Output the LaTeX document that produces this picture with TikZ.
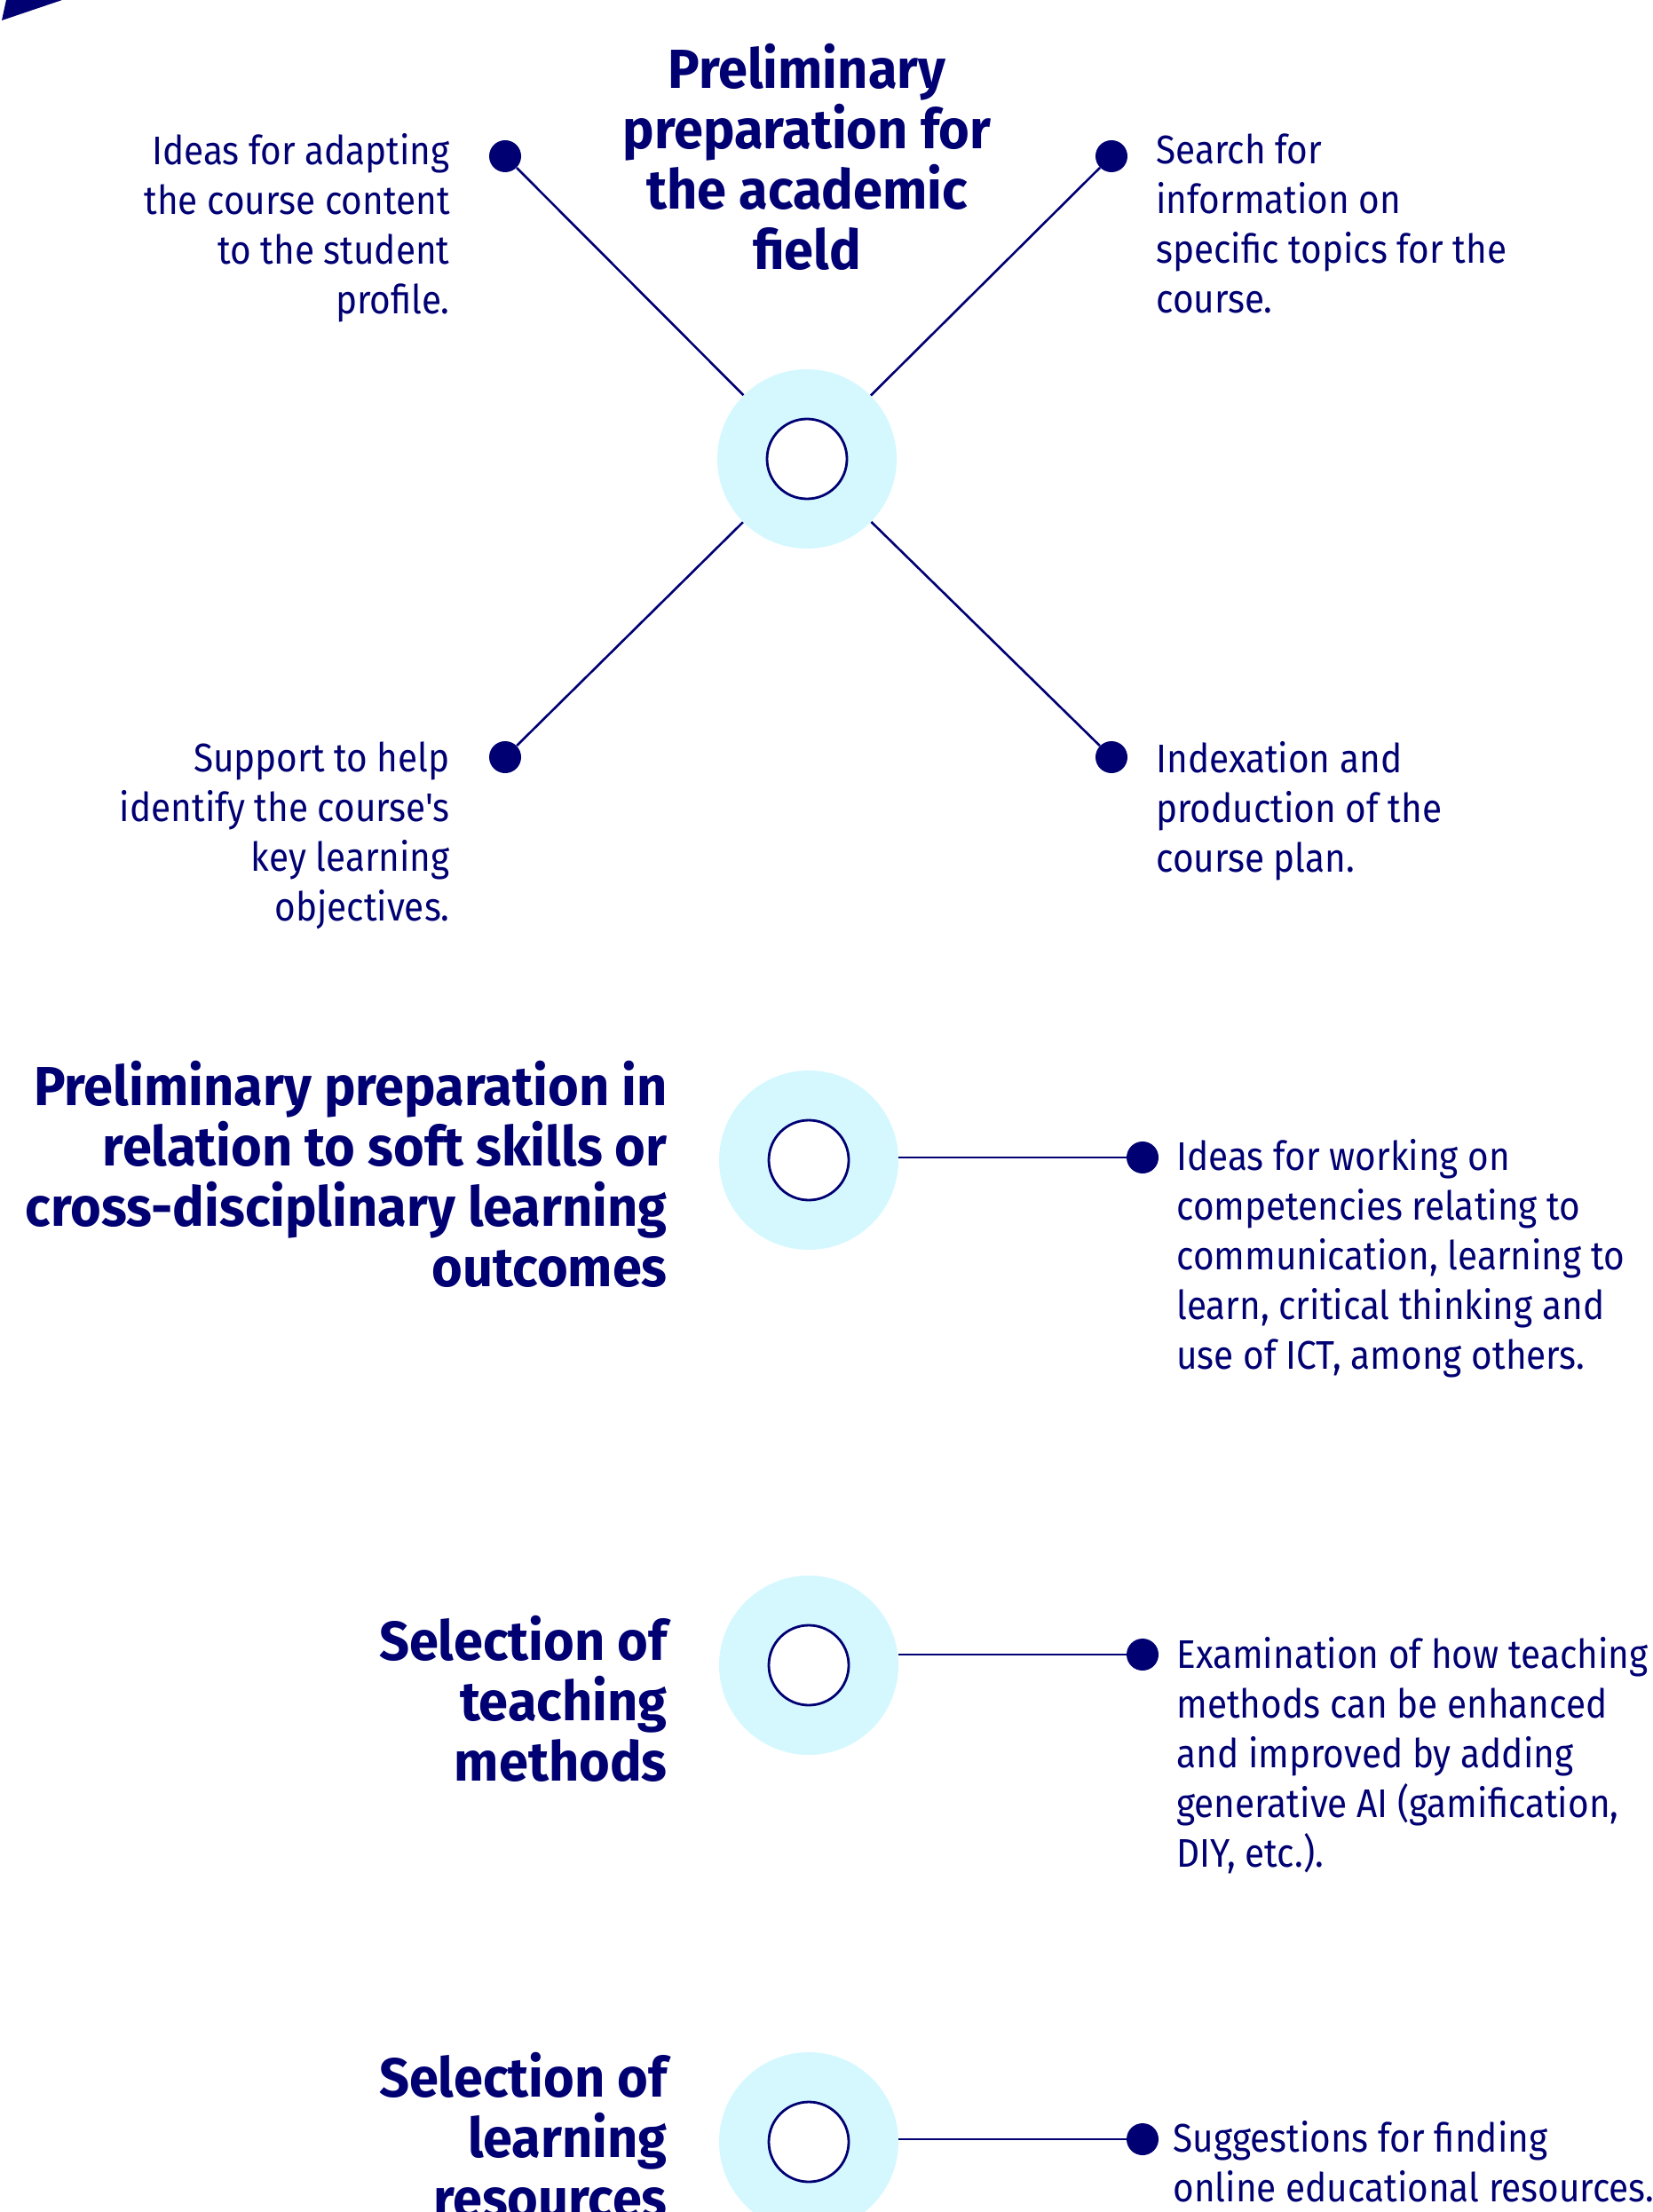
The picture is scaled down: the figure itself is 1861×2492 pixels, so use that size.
\documentclass[tikz,border=0pt]{standalone}
\usepackage{fontspec}
\setmainfont{Fira Sans}[FakeStretch=0.96]
\newfontfamily\bodyfont{Fira Sans}[FakeStretch=0.9]
\usetikzlibrary{positioning}
\definecolor{colornavy}{RGB}{0,0,115}
\definecolor{colorhalo}{RGB}{213,248,255}

\begin{document}
\begin{tikzpicture}[
    x=0.5pt, y=-0.5pt,
    base/.style={text=colornavy,inner sep=0pt,execute at begin node=\strut},
    heading/.style={base,font={\fontsize{31}{34}\selectfont\bfseries}},
    txt/.style={base,font={\bodyfont\fontsize{22.5}{28}\selectfont}},
    halo/.style={circle,fill=colorhalo,minimum size=101pt,inner sep=0pt},
    hole/.style={circle,draw=colornavy,line width=1.4pt,fill=white,minimum size=45pt,inner sep=0pt},
    bullet/.style={circle,fill=colornavy,minimum size=18pt,inner sep=0pt},
    link/.style={draw=colornavy,line width=1.3pt},
]
    \useasboundingbox (0,0) rectangle (1861,2492);

    % corner mark
    \fill[colornavy] (7,0) -- (70,0) -- (2,23) -- cycle;

    % hubs
    \node[halo] (hubA) at (909,517)  {};
    \node[hole] (holeA) at (hubA) {};
    \node[halo] (hubB) at (911,1307) {};
    \node[hole] (holeB) at (hubB) {};
    \node[halo] (hubC) at (911,1876) {};
    \node[hole] (holeC) at (hubC) {};
    \node[halo] (hubD) at (911,2413) {};
    \node[hole] (holeD) at (hubD) {};

    % bullets
    \node[bullet] (dotTL) at (569,176)  {};
    \node[bullet] (dotTR) at (1252,176) {};
    \node[bullet] (dotBL) at (569,853)  {};
    \node[bullet] (dotBR) at (1252,853) {};
    \node[bullet] (dotB)  at (1287,1304) {};
    \node[bullet] (dotC)  at (1287,1864) {};
    \node[bullet] (dotD)  at (1287,2410) {};

    \draw[link] (hubA) -- (dotTL);
    \draw[link] (hubA) -- (dotTR);
    \draw[link] (hubA) -- (dotBL);
    \draw[link] (hubA) -- (dotBR);
    \draw[link] (hubB.east |- dotB) -- (dotB);
    \draw[link] (hubC.east |- dotC) -- (dotC);
    \draw[link] (hubD.east |- dotD) -- (dotD);

    % headings
    \node[heading,align=center,anchor=north]    (headA) at (909,49)
        {Preliminary\\preparation for\\the academic\\field};
    \node[heading,align=right,anchor=north east] (headB) at (752,1195)
        {Preliminary preparation in\\relation to soft skills or\\cross-disciplinary learning\\outcomes};
    \node[heading,align=right,anchor=north east] (headC) at (752,1820)
        {Selection of\\teaching\\methods};
    \node[heading,align=right,anchor=north east] (headD) at (752,2312)
        {Selection of\\learning\\resources};

    % texts
    \node[txt,align=right,anchor=north east] (txtTL) at (507,150)
        {Ideas for adapting\\the course content\\to the student\\profile.};
    \node[txt,align=left,anchor=north west]  (txtTR) at (1302,150)
        {Search for\\information on\\specific topics for the\\course.};
    \node[txt,align=right,anchor=north east] (txtBL) at (507,835)
        {Support to help\\identify the course's\\key learning\\objectives.};
    \node[txt,align=left,anchor=north west]  (txtBR) at (1302,835)
        {Indexation and\\production of the\\course plan.};
    \node[txt,align=left,anchor=north west]  (txtB) at (1325,1283)
        {Ideas for working on\\competencies relating to\\communication, learning to\\learn, critical thinking and\\use of ICT, among others.};
    \node[txt,align=left,anchor=north west]  (txtC) at (1325,1844)
        {Examination of how teaching\\methods can be enhanced\\and improved by adding\\generative AI (gamification,\\DIY, etc.).};
    \node[txt,align=left,anchor=north west]  (txtD) at (1321,2389)
        {Suggestions for finding\\online educational resources.};

\end{tikzpicture}
\end{document}
